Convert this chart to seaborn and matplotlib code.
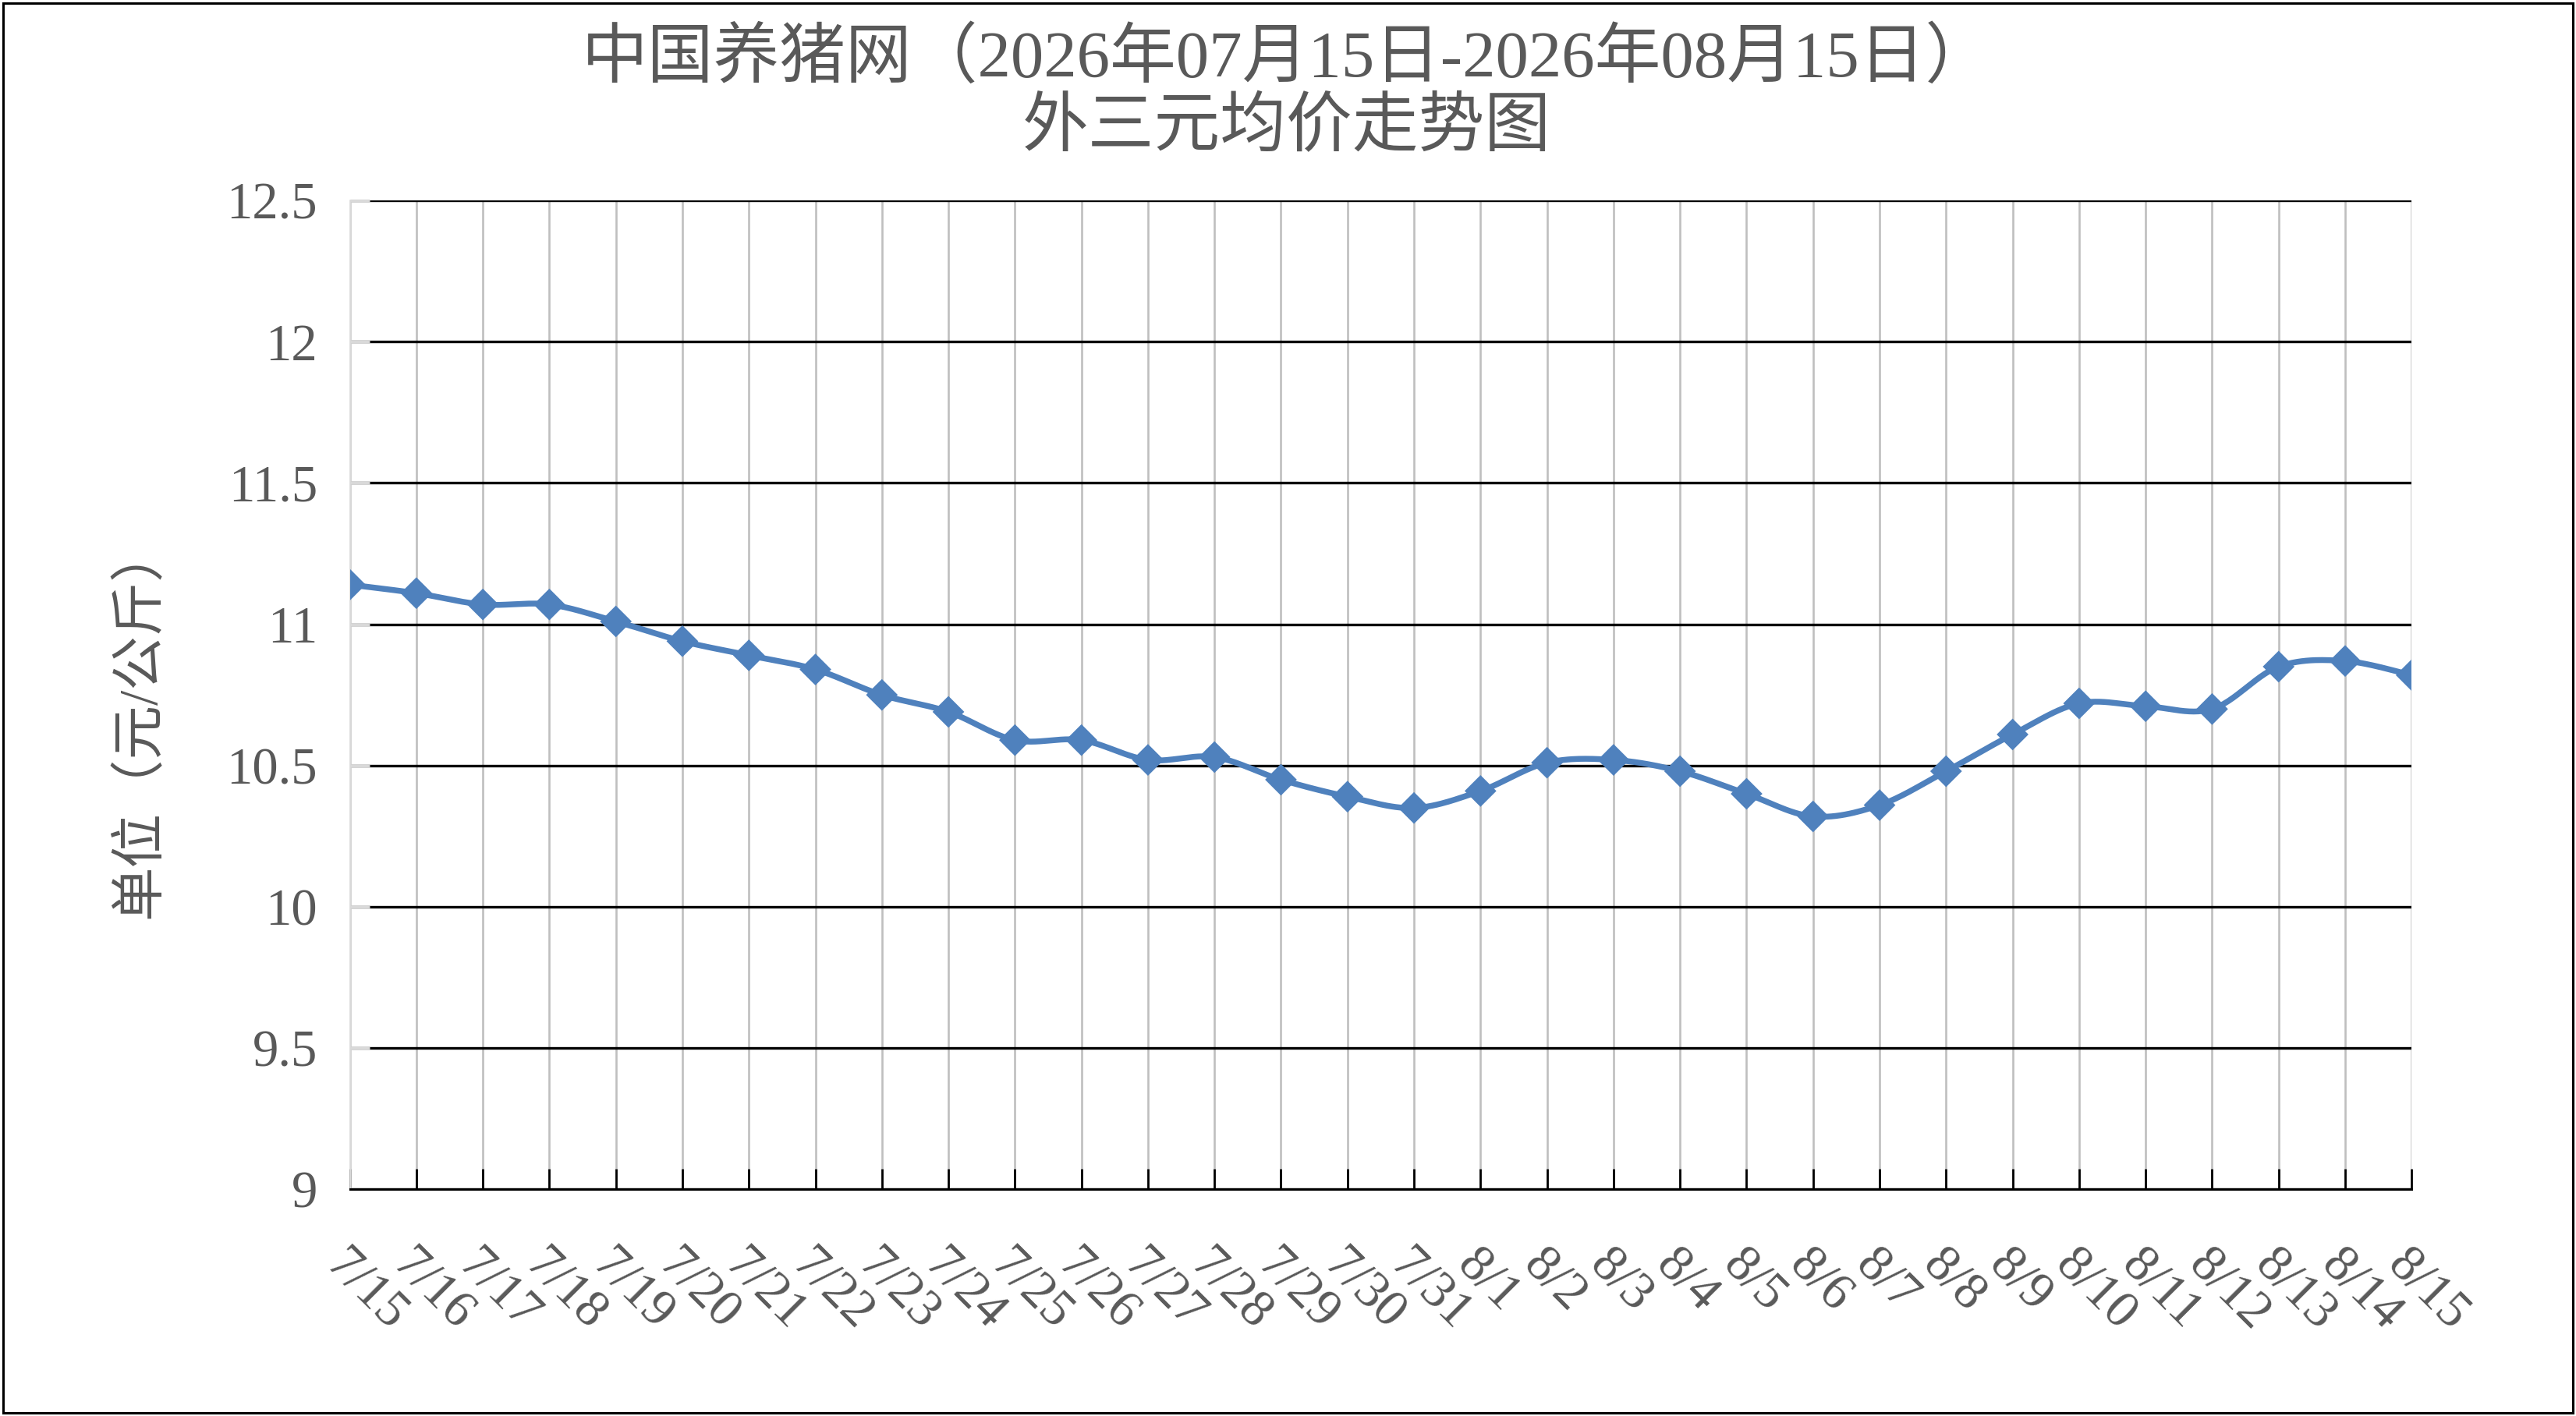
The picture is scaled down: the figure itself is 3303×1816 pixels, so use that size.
import numpy as np
import pandas as pd
import matplotlib
matplotlib.use("Agg")
import matplotlib.pyplot as plt
import seaborn as sns

# ── Data ────────────────────────────────────────────────
dates = ["7/15", "7/16", "7/17", "7/18", "7/19", "7/20", "7/21", "7/22",
         "7/23", "7/24", "7/25", "7/26", "7/27", "7/28", "7/29", "7/30",
         "7/31", "8/1", "8/2", "8/3", "8/4", "8/5", "8/6", "8/7",
         "8/8", "8/9", "8/10", "8/11", "8/12", "8/13", "8/14", "8/15"]
prices = [11.14, 11.11, 11.07, 11.07, 11.01, 10.94, 10.89, 10.84,
          10.75, 10.69, 10.59, 10.59, 10.52, 10.53, 10.45, 10.39,
          10.35, 10.41, 10.51, 10.52, 10.48, 10.40, 10.32, 10.36,
          10.48, 10.61, 10.72, 10.71, 10.70, 10.85, 10.87, 10.82]

title_line1 = "中国养猪网（2026年07月15日-2026年08月15日）"
title_line2 = "外三元均价走势图"
y_label = "单位（元/公斤）"
y_ticks = [9, 9.5, 10, 10.5, 11, 11.5, 12, 12.5]
y_tick_labels = ["9", "9.5", "10", "10.5", "11", "11.5", "12", "12.5"]

LINE_BLUE = "#4F81BD"
TEXT_GREY = "#595959"


def smooth_curve(xs, ys, steps=30):
    """Excel-like smoothed line: Catmull-Rom segments as cubic Beziers."""
    xs = np.asarray(xs, float)
    ys = np.asarray(ys, float)
    px = np.concatenate([[xs[0]], xs, [xs[-1]]])
    py = np.concatenate([[ys[0]], ys, [ys[-1]]])
    t = np.linspace(0, 1, steps)
    out_x, out_y = [], []
    for i in range(1, len(px) - 2):
        for p, out in ((px, out_x), (py, out_y)):
            p0, p1, p2, p3 = p[i - 1], p[i], p[i + 1], p[i + 2]
            c1 = p1 + (p2 - p0) / 6
            c2 = p2 - (p3 - p1) / 6
            seg = ((1 - t) ** 3 * p1 + 3 * (1 - t) ** 2 * t * c1
                   + 3 * (1 - t) * t ** 2 * c2 + t ** 3 * p2)
            out.extend(seg if i == 1 else seg[1:])
    return np.array(out_x), np.array(out_y)


df = pd.DataFrame({"pos": np.arange(len(dates)), "date": dates, "price": prices})
sx, sy = smooth_curve(df["pos"], df["price"])
curve = pd.DataFrame({"pos": sx, "price": sy})

# ── Style ───────────────────────────────────────────────
sns.set_theme(style="white")
plt.rcParams["font.family"] = ["Liberation Serif", "Noto Sans CJK SC", "DejaVu Sans"]

fig = plt.figure(figsize=(33.03, 18.16), dpi=100)
ax = fig.add_axes([0.1358, 0.160, 0.8004, 0.6985])

sns.lineplot(data=curve, x="pos", y="price", ax=ax, color=LINE_BLUE,
             linewidth=5.4, sort=False, estimator=None, zorder=3)
sns.scatterplot(data=df, x="pos", y="price", ax=ax, marker="D", s=430,
                color=LINE_BLUE, edgecolor="none", zorder=4)

ax.set_xlim(0, len(dates) - 1)
ax.set_ylim(9, 12.5)

# gridlines: black horizontals, grey verticals
ax.set_yticks(y_ticks)
ax.set_yticklabels(y_tick_labels)
ax.set_xticks(df["pos"])
ax.set_xticklabels(dates, rotation=-45, ha="left", va="top", rotation_mode="anchor")
ax.grid(axis="y", color="black", linewidth=2.4)
ax.grid(axis="x", color="#BFBFBF", linewidth=1.9)
ax.set_axisbelow(True)

for side in ["top", "right"]:
    ax.spines[side].set_visible(False)
ax.spines["left"].set_color("#D9D9D9")
ax.spines["left"].set_linewidth(1.9)
ax.spines["bottom"].set_color("black")
ax.spines["bottom"].set_linewidth(2.2)

ax.tick_params(axis="y", direction="in", length=18, width=2.4, color="#D9D9D9",
               pad=30, labelsize=48, labelcolor=TEXT_GREY, left=True)
ax.tick_params(axis="x", direction="in", length=18.5, width=2.0, color="black",
               pad=48, labelsize=48, labelcolor=TEXT_GREY, bottom=True)

ax.set_xlabel("")
ax.set_ylabel(y_label, fontsize=50, color=TEXT_GREY)
ax.yaxis.set_label_coords(-0.089, 0.473)

fig.text(0.4995, 0.958, title_line1, ha="center", va="center",
         fontsize=61, color=TEXT_GREY)
fig.text(0.4995, 0.909, title_line2, ha="center", va="center",
         fontsize=61, color=TEXT_GREY)

# thin frame around the whole chart area
fig.patches.append(plt.Rectangle((0.0012, 0.0022), 0.9976, 0.9956, transform=fig.transFigure,
                                 fill=False, edgecolor="black", linewidth=2.2))

plt.savefig("out.png", dpi=100)
plt.close()
